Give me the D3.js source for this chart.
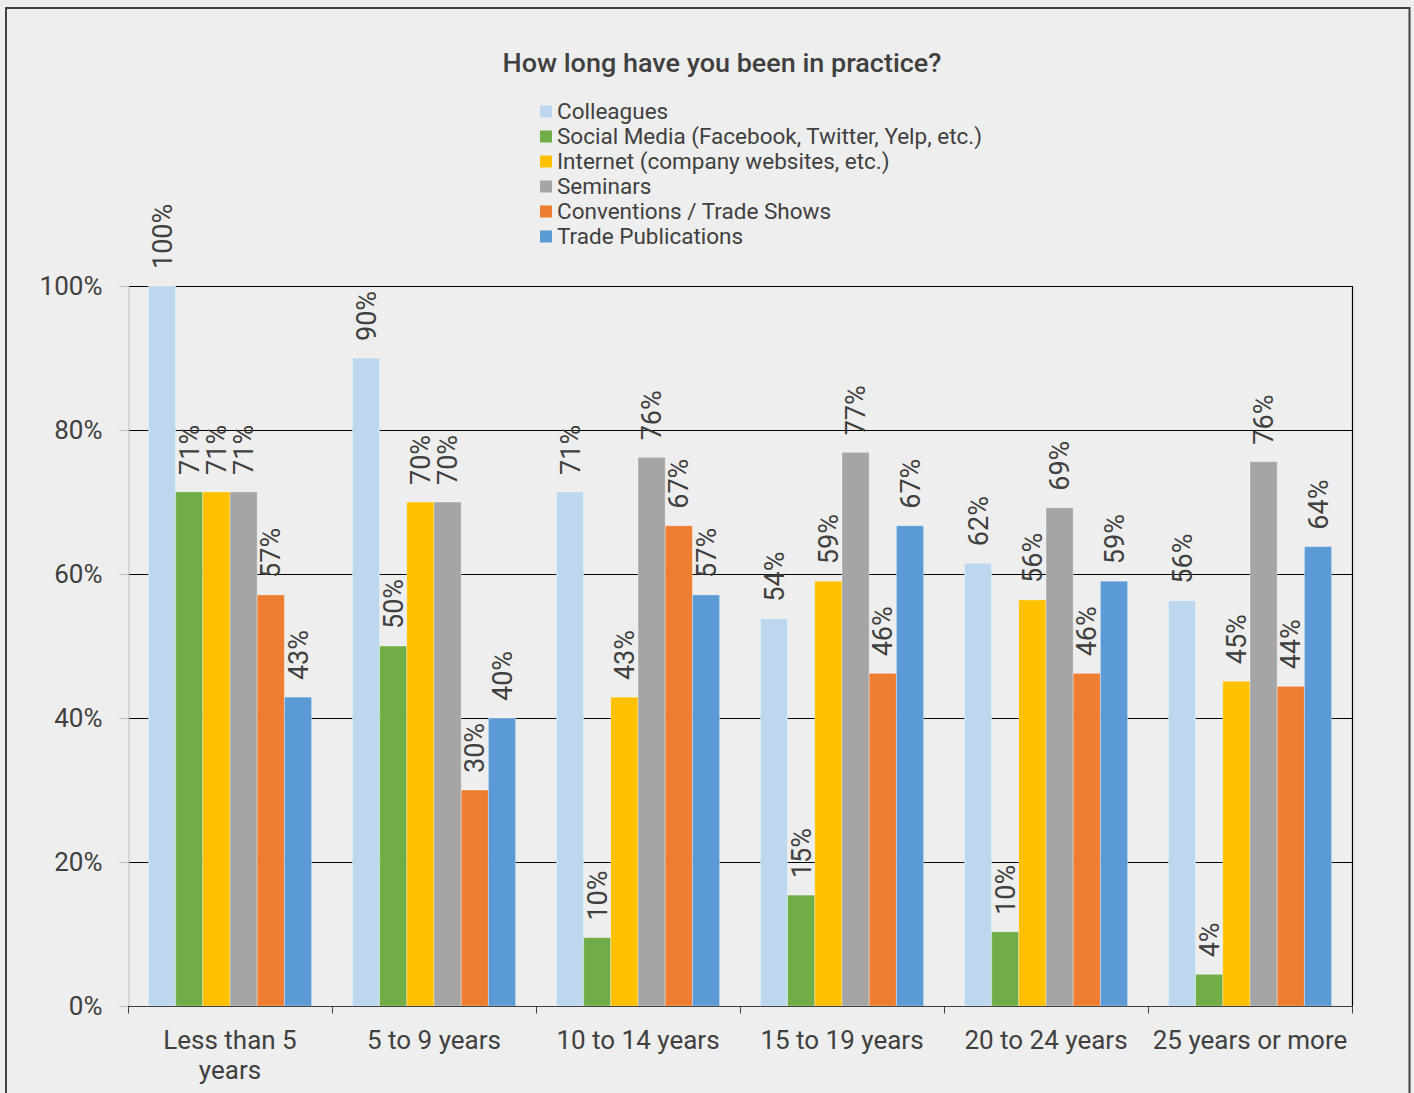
<!DOCTYPE html>
<html>
<head>
<meta charset="utf-8">
<script src="https://cdn.jsdelivr.net/npm/d3@7"></script>
<style>
  html, body { margin: 0; padding: 0; background: #eeeeee; }
  svg { display: block; }
  text { font-family: Roboto, "Liberation Sans", Arial, sans-serif; fill: #404040; }
</style>
</head>
<body>
<svg id="chart" width="1414" height="1093"></svg>
<script>
// Survey: sources of information by years in practice
const title = "How long have you been in practice?";
const categories = [
  ["Less than 5", "years"],
  ["5 to 9 years"],
  ["10 to 14 years"],
  ["15 to 19 years"],
  ["20 to 24 years"],
  ["25 years or more"]
];
const seriesNames = [
  "Colleagues",
  "Social Media (Facebook, Twitter, Yelp, etc.)",
  "Internet (company websites, etc.)",
  "Seminars",
  "Conventions / Trade Shows",
  "Trade Publications"
];
const seriesColors = ["#BDD7EE", "#70AD47", "#FFC000", "#A5A5A5", "#ED7D31", "#5B9BD5"];

// Share of respondents (%) per practice-length group
const colleagues  = [100.0, 90.0, 71.4, 53.8, 61.5, 56.3];
const socialMedia = [71.4, 50.0, 9.5, 15.4, 10.3, 4.4];
const internet    = [71.4, 70.0, 42.9, 59.0, 56.4, 45.1];
const seminars    = [71.4, 70.0, 76.2, 76.9, 69.2, 75.6];
const conventions = [57.1, 30.0, 66.7, 46.2, 46.2, 44.4];
const tradePubs   = [42.9, 40.0, 57.1, 66.7, 59.0, 63.8];
const seriesValues = [colleagues, socialMedia, internet, seminars, conventions, tradePubs];

const yTicks = [0, 20, 40, 60, 80, 100];

const svg = d3.select("#chart");
const plot = { left: 128, right: 1352, top: 286, bottom: 1006 };

// Outer frame
svg.append("rect")
  .attr("x", 6).attr("y", 8)
  .attr("width", 1403.5).attr("height", 1120)
  .attr("fill", "none").attr("stroke", "#404040").attr("stroke-width", 2);

// Title
svg.append("text")
  .attr("transform", "translate(722,72) scale(1.08,1)")
  .attr("text-anchor", "middle")
  .style("font-size", "25px").style("font-weight", 500)
  .text(title);

// Legend
const legend = svg.append("g").attr("transform", "translate(540,0)");
seriesNames.forEach((name, i) => {
  const cy = 111.5 + i * 25;
  legend.append("rect")
    .attr("x", 0).attr("y", cy - 6).attr("width", 12).attr("height", 12)
    .attr("fill", seriesColors[i]);
  legend.append("text")
    .attr("x", 17).attr("y", cy + 7.5)
    .style("font-size", "22.5px")
    .text(name);
});

// Scales
const catKeys = categories.map(c => c.join(" "));
const x0 = d3.scaleBand().domain(catKeys).range([plot.left, plot.right]).padding(0);
const bw = x0.bandwidth();
const unit = bw / 7.5;
const x1 = d3.scaleBand().domain(d3.range(seriesNames.length))
  .range([unit * 0.75, bw - unit * 0.75]).padding(0);
const y = d3.scaleLinear().domain([0, 100]).range([plot.bottom, plot.top]);

// Gridlines
svg.append("g").selectAll("line")
  .data(yTicks.filter(t => t > 0))
  .join("line")
  .attr("x1", plot.left).attr("x2", plot.right)
  .attr("y1", d => Math.round(y(d)) + 0.5).attr("y2", d => Math.round(y(d)) + 0.5)
  .attr("stroke", "#000").attr("stroke-width", 1.2);

// Right border of plot area
svg.append("line")
  .attr("x1", plot.right + 0.5).attr("x2", plot.right + 0.5)
  .attr("y1", plot.top).attr("y2", plot.bottom)
  .attr("stroke", "#000").attr("stroke-width", 1.2);

// Y axis
const yAxis = d3.axisLeft(y).tickValues(yTicks).tickSize(9).tickPadding(17)
  .tickFormat(d => d + "%");
const gy = svg.append("g").attr("transform", `translate(${plot.left + 0.5},0)`).call(yAxis);
gy.select(".domain").attr("stroke", "#bfbfbf");
gy.selectAll(".tick line").attr("stroke", "#bfbfbf");
gy.selectAll(".tick text")
  .style("font-size", "26px").style("font-family", "Roboto, sans-serif")
  .attr("fill", "#404040");

// Bars
const groups = svg.append("g").selectAll("g")
  .data(catKeys)
  .join("g")
  .attr("transform", d => `translate(${x0(d)},0)`);

groups.each(function(cat, ci) {
  const g = d3.select(this);
  seriesValues.forEach((vals, si) => {
    const v = vals[ci];
    g.append("rect")
      .attr("x", x1(si)).attr("width", x1.bandwidth())
      .attr("y", y(v)).attr("height", y(0) - y(v))
      .attr("fill", seriesColors[si])
      .attr("stroke", "rgba(255,255,255,0.35)").attr("stroke-width", 1);
  });
});

// X axis
const gx = svg.append("g").attr("transform", `translate(0,${plot.bottom + 0.5})`);
gx.append("line")
  .attr("x1", plot.left).attr("x2", plot.right + 1)
  .attr("stroke", "#404040").attr("stroke-width", 1.2);
const boundaries = catKeys.map(k => x0(k)).concat([plot.right]);
gx.selectAll("line.tk").data(boundaries).join("line")
  .attr("class", "tk")
  .attr("x1", d => Math.round(d) + 0.5).attr("x2", d => Math.round(d) + 0.5)
  .attr("y1", 0).attr("y2", 7)
  .attr("stroke", "#404040");
categories.forEach((lines, ci) => {
  const cx = x0(catKeys[ci]) + bw / 2;
  const t = gx.append("text")
    .attr("text-anchor", "middle")
    .style("font-size", "26px");
  lines.forEach((ln, li) => {
    t.append("tspan").attr("x", cx).attr("y", 42 + li * 30).text(ln);
  });
});

// Data labels
const labels = svg.append("g");
catKeys.forEach((cat, ci) => {
  seriesValues.forEach((vals, si) => {
    const v = vals[ci];
    const cx = x0(cat) + x1(si) + x1.bandwidth() / 2;
    const top = y(v) - 17;
    labels.append("text")
      .attr("transform", `translate(${cx + 9.5},${top}) rotate(-90)`)
      .attr("text-anchor", "start")
      .style("font-size", "27px")
      .text(Math.round(v) + "%");
  });
});
</script>
</body>
</html>
